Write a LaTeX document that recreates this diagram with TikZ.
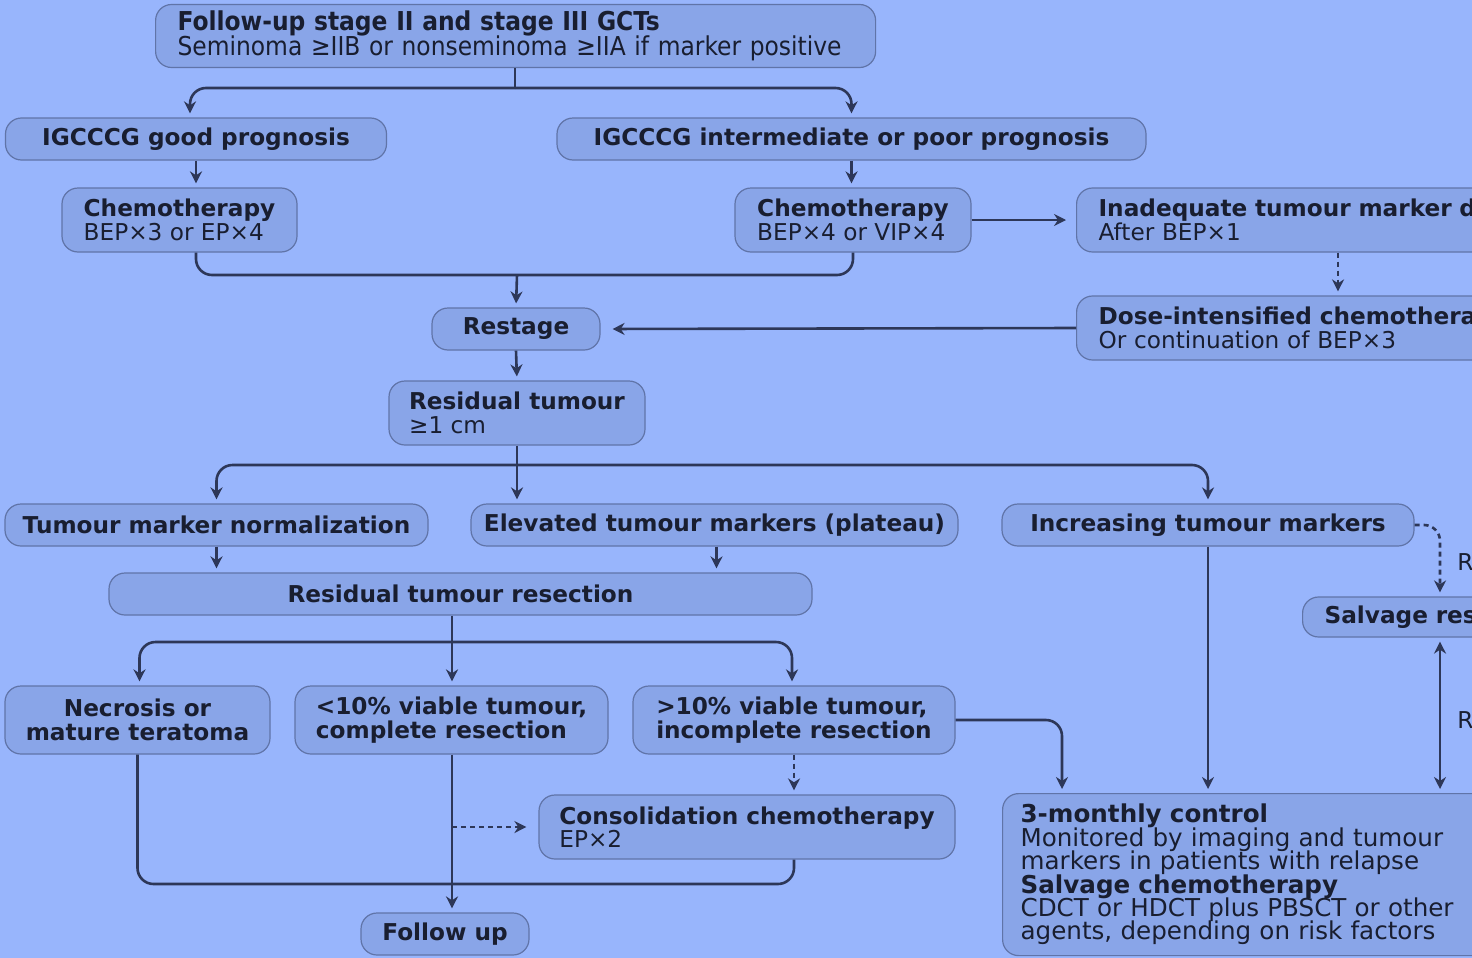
\documentclass[tikz,border=0pt]{standalone}
\usepackage{fontspec}
\setmainfont{DejaVu Sans}
\newfontfamily\condfont{DejaVu Sans Condensed}
\usepackage{tikz}
\usetikzlibrary{arrows.meta,calc,positioning}
\definecolor{mybg}{RGB}{152,181,252}
\definecolor{myfill}{RGB}{137,165,232}
\definecolor{myedge}{RGB}{96,116,168}
\definecolor{myline}{RGB}{45,55,88}
\definecolor{myink}{RGB}{25,30,48}
\newcommand\boxfont{\fontsize{11.6}{11.75}\selectfont\lineskiplimit=-10pt\relax}
\newcommand\ctrlfont{\fontsize{12.3}{11.7}\selectfont\lineskiplimit=-10pt\relax}
\newcommand\topfont{\condfont\fontsize{13}{12.5}\selectfont\lineskiplimit=-10pt\relax}

\begin{document}
\begin{tikzpicture}[
  x=0.5pt, y=-0.5pt,
  mybox/.style={
    draw=myedge,
    fill=myfill,
    line width=0.6pt,
    rounded corners=8pt,
    text=myink,
    font=\boxfont,
    inner xsep=5pt,
    inner ysep=2pt
    },
  mytag/.style={mybox, minimum width=#1, minimum height=21pt},
  mytwo/.style={mybox, align=left, minimum width=#1, minimum height=32pt},
  myedgebox/.style={mybox, align=left, text width=#1, inner xsep=11pt, anchor=west},
  myline/.style={draw=myline, line width=1.3pt},
  myarrow/.style={myline, rounded corners=8pt, -{Stealth[length=6pt,width=6pt]}, shorten >=2pt},
  mydots/.style={myarrow, dash pattern=on 2.5pt off 2pt}
]

\clip (0,0) rectangle (1472,958);
\fill[mybg] (0,0) rectangle (1472,958);

% boxes
\node[myedgebox=338pt, minimum height=31.5pt, font=\topfont]
  (followup23) at (155,36)
  {\textbf{Follow-up stage II and stage III GCTs}\\
   Seminoma ≥IIB or nonseminoma ≥IIA if marker positive};

\node[mytag=190.5pt] (goodprog) at (196,139) {\textbf{IGCCCG good prognosis}};
\node[mytag=294.5pt] (poorprog) at (851.5,139) {\textbf{IGCCCG intermediate or poor prognosis}};

\node[mytwo=117.5pt] (chemogood) at (179.5,220) {\textbf{Chemotherapy}\\BEP×3 or EP×4};
\node[mytwo=118pt] (chemopoor) at (853,220) {\textbf{Chemotherapy}\\BEP×4 or VIP×4};

\node[myedgebox=260pt, minimum height=32pt]
  (inadequate) at (1076,220)
  {\textbf{Inadequate tumour marker d}\\After BEP×1};
\node[myedgebox=260pt, minimum height=32pt]
  (doseint) at (1076,328)
  {\textbf{Dose-intensified chemothera}\\Or continuation of BEP×3};

\node[mytag=84pt] (restage) at (516,329) {\textbf{Restage}};
\node[mytwo=128pt] (residual) at (517,413) {\textbf{Residual tumour}\\≥1 cm};

\node[mytag=211.5pt] (normal) at (216.5,525) {\textbf{Tumour marker normalization}};
\node[mytag=243.5pt] (plateau) at (714.5,525) {\textbf{Elevated tumour markers (plateau)}};
\node[mytag=206pt] (increasing) at (1208,525) {\textbf{Increasing tumour markers}};

\node[mytag=351.5pt] (resection) at (460.5,594) {\textbf{Residual tumour resection}};
\node[myedgebox=120pt, minimum height=20pt]
  (salvageres) at (1302,617) {\textbf{Salvage res}};

\node[mybox, align=center, minimum width=132.5pt, minimum height=34pt]
  (necrosis) at (137.5,720) {\textbf{Necrosis or}\\\textbf{mature teratoma}};
\node[mybox, align=left, minimum width=156.5pt, minimum height=34pt]
  (lessten) at (451.5,720) {\textbf{<10\% viable tumour,}\\\textbf{complete resection}};
\node[mybox, align=left, minimum width=161pt, minimum height=34pt]
  (moreten) at (794,720) {\textbf{>10\% viable tumour,}\\\textbf{incomplete resection}};

\node[mytwo=208pt] (consol) at (747,827) {\textbf{Consolidation chemotherapy}\\EP×2};
\node[mytag=84pt] (followup) at (445,934) {\textbf{Follow up}};

\node[myedgebox=240pt, minimum height=81pt, inner xsep=9pt, anchor=north west, font=\ctrlfont]
  (control) at (1002,793)
  {\textbf{3-monthly control}\\
   Monitored by imaging and tumour\\
   markers in patients with relapse\\
   \textbf{Salvage chemotherapy}\\
   CDCT or HDCT plus PBSCT or other\\
   agents, depending on risk factors};

\node[text=myink, font=\boxfont, anchor=west, inner sep=0pt] (rlabela) at (1457,562) {R};
\node[text=myink, font=\boxfont, anchor=west, inner sep=0pt] (rlabelb) at (1457,720) {R};

% connectors
\coordinate (split1) at (515,88);
\draw[myline] (followup23.south -| split1) -- (split1);
\draw[myarrow] (split1) -| ([xshift=-3pt]goodprog.north);
\draw[myarrow] (split1) -| (poorprog.north);

\draw[myarrow] (goodprog.south) -- (goodprog.south |- chemogood.north);
\draw[myarrow] (poorprog.south) -- (poorprog.south |- chemopoor.north);

\coordinate (join1) at (517,275);
\draw[myline, rounded corners=8pt] (goodprog.south |- chemogood.south) |- (join1) -| (chemopoor.south);
\draw[myarrow] (join1) -- (restage.north);

\draw[myarrow, shorten >=5pt] (chemopoor.east) -- (inadequate.west);
\draw[mydots] ($(inadequate.south west)+(262,0)$) -- ($(doseint.north west)+(262,0)$);
\draw[myarrow, shorten >=6pt] (doseint.west) -- (restage.east);

\draw[myarrow] (restage.south) -- (residual.north);

\coordinate (split2) at (516,465);
\draw[myarrow] (residual.south) -- (residual.south |- plateau.north);
\draw[myarrow] (split2) -| (normal.north);
\draw[myarrow] (split2) -| (increasing.north);

\draw[myarrow] (normal.south) -- (normal.south |- resection.north);
\draw[myarrow] ([xshift=1pt]plateau.south) -- ([xshift=1pt]plateau.south |- resection.north);

\coordinate (split3) at (452,642);
\draw[myarrow] (resection.south -| split3) -- (split3 |- lessten.north);
\draw[myarrow] (split3) -| ([xshift=1pt]necrosis.north);
\draw[myarrow] (split3) -| ([xshift=-1pt]moreten.north);

\draw[myarrow] (increasing.south) -- (increasing.south |- control.north);
\draw[mydots] (increasing.east) -| ($(salvageres.north west)+(138,0)$);
\draw[myarrow, {Stealth[length=6pt,width=6pt]}-{Stealth[length=6pt,width=6pt]}, shorten <=2pt]
  ($(salvageres.south west)+(138,0)$) -- ($(control.north west)+(438,0)$);
\draw[myarrow] (moreten.east) -| ($(control.north west)+(60,0)$);

\draw[mydots] (moreten.south) -- (moreten.south |- consol.north);
\draw[myarrow] (split3 |- lessten.south) -- (split3 |- followup.north);
\draw[mydots, shorten >=6pt] (split3 |- consol.west) -- (consol.west);

\coordinate (join2) at (794,884);
\draw[myline, rounded corners=8pt] (necrosis.south) |- (join2) -- (join2 |- consol.south);

\end{tikzpicture}
\end{document}
